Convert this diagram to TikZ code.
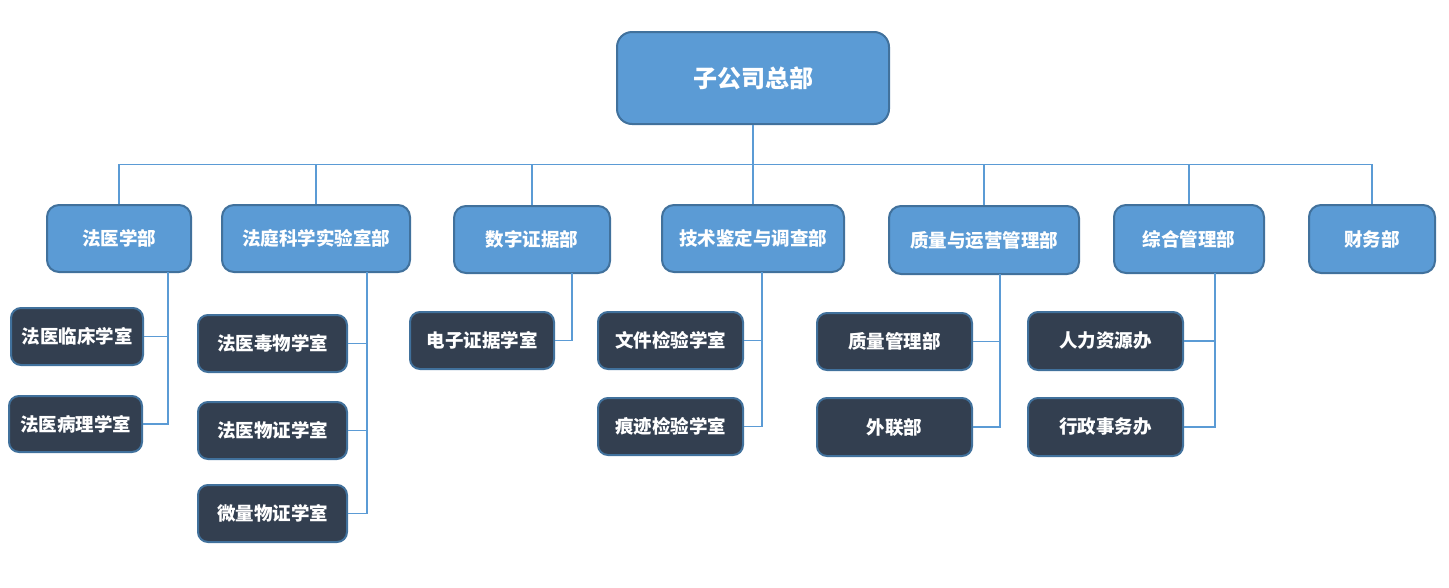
\documentclass[tikz,border=0pt]{standalone}
\usepackage{fontspec}
\setmainfont{Noto Sans CJK SC}
\definecolor{bluefill}{HTML}{5B9BD5}
\definecolor{blueedge}{HTML}{41719C}
\definecolor{darkfill}{HTML}{333F50}
\definecolor{lineblue}{HTML}{5B9BD5}
\tikzset{
  base/.style={draw=blueedge, line width=2pt, rounded corners=12pt, inner sep=0pt, text=white, font=\bfseries},
  topbox/.style={base, fill=bluefill, rounded corners=15pt, font=\fontsize{24}{28}\selectfont\bfseries},
  deptbox/.style={base, fill=bluefill, font=\fontsize{18.5}{22}\selectfont\bfseries},
  unitbox/.style={base, fill=darkfill, rounded corners=10pt, font=\fontsize{18.5}{22}\selectfont\bfseries},
  conn/.style={draw=lineblue, line width=1.1pt}
}
\begin{document}
\begin{tikzpicture}[x=1pt,y=-1pt]
\useasboundingbox (0,0) rectangle (1449,587);
% top
\node[topbox, minimum width=272pt, minimum height=92pt] (top) at (753,78) {子公司总部};
% departments
\node[deptbox, minimum width=144pt, minimum height=67pt] (fy) at (119,238.5) {法医学部};
\node[deptbox, minimum width=188pt, minimum height=67pt] (ft) at (316,238.5) {法庭科学实验室部};
\node[deptbox, minimum width=156pt, minimum height=67pt] (sz) at (532,239.5) {数字证据部};
\node[deptbox, minimum width=182pt, minimum height=67pt] (js) at (753,238.5) {技术鉴定与调查部};
\node[deptbox, minimum width=190pt, minimum height=68pt] (zl) at (984,240) {质量与运营管理部};
\node[deptbox, minimum width=150pt, minimum height=68pt] (zh) at (1189,239) {综合管理部};
\node[deptbox, minimum width=126pt, minimum height=68pt] (cw) at (1372,239) {财务部};
% units
\node[unitbox, minimum width=132pt, minimum height=57pt] (a1) at (77,336.5) {法医临床学室};
\node[unitbox, minimum width=133pt, minimum height=56pt] (a2) at (75.5,424) {法医病理学室};
\node[unitbox, minimum width=149pt, minimum height=57pt] (b1) at (272.5,343.5) {法医毒物学室};
\node[unitbox, minimum width=149pt, minimum height=57pt] (b2) at (272.5,430.5) {法医物证学室};
\node[unitbox, minimum width=149pt, minimum height=57pt] (b3) at (272.5,513.5) {微量物证学室};
\node[unitbox, minimum width=144pt, minimum height=57pt] (c1) at (482,340.5) {电子证据学室};
\node[unitbox, minimum width=145pt, minimum height=57pt] (d1) at (670.5,340.5) {文件检验学室};
\node[unitbox, minimum width=145pt, minimum height=57pt] (d2) at (670.5,426.5) {痕迹检验学室};
\node[unitbox, minimum width=155pt, minimum height=57pt] (e1) at (894.5,341.5) {质量管理部};
\node[unitbox, minimum width=155pt, minimum height=58pt] (e2) at (894.5,427) {外联部};
\node[unitbox, minimum width=155pt, minimum height=58pt] (f1) at (1105.5,341) {人力资源办};
\node[unitbox, minimum width=155pt, minimum height=58pt] (f2) at (1105.5,427) {行政事务办};
% bus
\begin{scope}[on background layer/.style={}]
\coordinate (bus) at (753,164.5);
\draw[conn] (top.south) -- (bus);
\foreach \n in {fy,ft,sz,js,zl,zh,cw} {
  \draw[conn] (bus) -| (\n.north);
}
% sub-connectors
\coordinate (va) at (168,272);
\coordinate (vb) at (367,272);
\coordinate (vc) at (572,273);
\coordinate (vd) at (762,272);
\coordinate (ve) at (1000,274);
\coordinate (vf) at (1215,273);
\draw[conn] (va) |- (a1.east);
\draw[conn] (va) |- (a2.east);
\draw[conn] (vb) |- (b1.east);
\draw[conn] (vb) |- (b2.east);
\draw[conn] (vb) |- (b3.east);
\draw[conn] (vc) |- (c1.east);
\draw[conn] (vd) |- (d1.east);
\draw[conn] (vd) |- (d2.east);
\draw[conn] (ve) |- (e1.east);
\draw[conn] (ve) |- (e2.east);
\draw[conn] (vf) |- (f1.east);
\draw[conn] (vf) |- (f2.east);
\end{scope}
\end{tikzpicture}
\end{document}
